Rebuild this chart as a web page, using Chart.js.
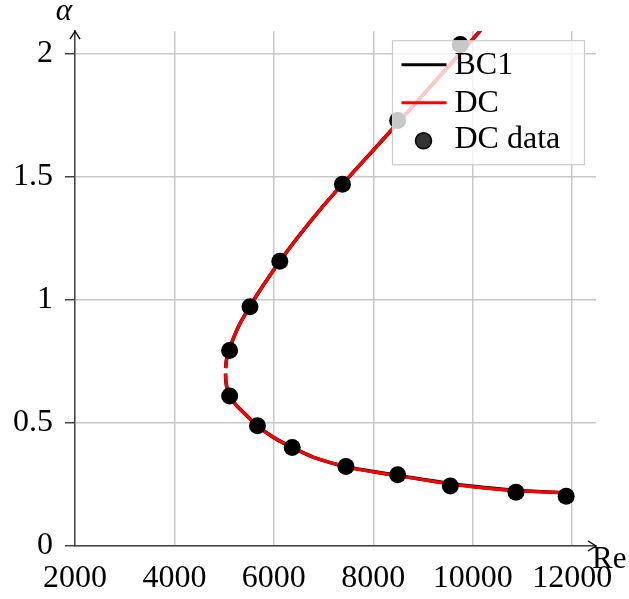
<!DOCTYPE html>
<html>
<head>
<meta charset="utf-8">
<script src="https://cdn.jsdelivr.net/npm/chart.js@4.4.1/dist/chart.umd.min.js"></script>
<style>
  html, body { margin: 0; padding: 0; background: #fff; }
  #wrap { width: 629px; height: 599px; }
</style>
</head>
<body>
<div id="wrap"><canvas id="neutralChart"></canvas></div>
<script>
// tick values and labels
const xTicks = [2000, 4000, 6000, 8000, 10000, 12000];
const xTickLabels = ['2000', '4000', '6000', '8000', '10000', '12000'];
const yTicks = [0, 0.5, 1, 1.5, 2];
const yTickLabels = ['0', '0.5', '1', '1.5', '2'];

// BC1 neutral curve (null = break near the nose)
const bc1Re = [12000, 11000, 10500, 10000, 9500, 9000, 8500, 8000, 7450, 6800, 6370, 6000, 5666, 5400, 5250, 5115, 5060, 5035, 5028, null,
  5030, 5050, 5110, 5200, 5310, 5510, 5760, 6121, 6480, 6940, 7380, 8000, 8600, 9300, 10200];
const bc1Alpha = [0.215, 0.224, 0.232, 0.242, 0.255, 0.270, 0.286, 0.302, 0.322, 0.360, 0.400, 0.440, 0.488, 0.540, 0.570, 0.609, 0.640, 0.670, 0.700, null,
  0.722, 0.760, 0.800, 0.850, 0.900, 0.970, 1.050, 1.156, 1.253, 1.368, 1.469, 1.607, 1.741, 1.899, 2.103];

// DC neutral curve
const dcRe = [12000, 11000, 10500, 10000, 9500, 9000, 8500, 8000, 7450, 6800, 6370, 6000, 5666, 5400, 5250, 5115, 5060, 5035, 5028, null,
  5030, 5050, 5110, 5200, 5310, 5510, 5760, 6121, 6480, 6940, 7380, 8000, 8600, 9300, 10200];
const dcAlpha = [0.215, 0.223, 0.230, 0.240, 0.253, 0.269, 0.285, 0.301, 0.322, 0.360, 0.400, 0.440, 0.488, 0.540, 0.570, 0.609, 0.640, 0.670, 0.700, null,
  0.722, 0.760, 0.800, 0.850, 0.900, 0.970, 1.050, 1.156, 1.253, 1.368, 1.469, 1.607, 1.741, 1.899, 2.103];

// DC data points
const dataRe = [5110, 5110, 5520, 6120, 7380, 8490, 9750, 5670, 6370, 7450, 8490, 9550, 10870, 11880];
const dataAlpha = [0.794, 0.609, 0.971, 1.156, 1.469, 1.727, 2.036, 0.488, 0.400, 0.323, 0.289, 0.244, 0.218, 0.202];

const FONT = 'Liberation Serif';

function toPoints(xs, ys) {
  return xs.map((x, i) => (x === null ? { x: NaN, y: null } : { x, y: ys[i] }));
}

// arrows, axis names and the legend box on top of the data
const decorPlugin = {
  id: 'decor',
  afterDraw(chart) {
    const { ctx, chartArea, scales } = chart;
    const x0 = scales.x.getPixelForValue(2000);
    const y0 = scales.y.getPixelForValue(0);

    ctx.save();
    ctx.strokeStyle = '#000';
    ctx.lineWidth = 1.4;
    ctx.beginPath();
    ctx.moveTo(chartArea.right - 8, y0 - 5);
    ctx.lineTo(chartArea.right, y0);
    ctx.lineTo(chartArea.right - 8, y0 + 5);
    ctx.moveTo(x0 - 5, chartArea.top + 8);
    ctx.lineTo(x0, chartArea.top);
    ctx.lineTo(x0 + 5, chartArea.top + 8);
    ctx.stroke();

    ctx.fillStyle = '#000';
    ctx.font = 'italic 31px ' + FONT;
    ctx.textAlign = 'center';
    ctx.textBaseline = 'middle';
    ctx.fillText('α', 64, 12);
    ctx.font = '31px ' + FONT;
    ctx.textAlign = 'left';
    ctx.textBaseline = 'alphabetic';
    ctx.fillText('Re', chartArea.right - 4, y0 + 22);

    // legend
    const bx = chartArea.right - 203.5;
    const by = chartArea.top + 9.5;
    ctx.fillStyle = 'rgba(255,255,255,0.78)';
    ctx.fillRect(bx, by, 192, 124);
    ctx.strokeStyle = '#cccccc';
    ctx.lineWidth = 1.2;
    ctx.strokeRect(bx, by, 192, 124);

    const rows = [24, 62, 100];
    ctx.lineWidth = 3;
    ctx.strokeStyle = '#000';
    ctx.beginPath();
    ctx.moveTo(bx + 9, by + rows[0]);
    ctx.lineTo(bx + 54, by + rows[0]);
    ctx.stroke();
    ctx.strokeStyle = '#ff0000';
    ctx.beginPath();
    ctx.moveTo(bx + 9, by + rows[1]);
    ctx.lineTo(bx + 54, by + rows[1]);
    ctx.stroke();
    ctx.fillStyle = '#333';
    ctx.strokeStyle = '#000';
    ctx.lineWidth = 1.5;
    ctx.beginPath();
    ctx.arc(bx + 31, by + rows[2], 8, 0, Math.PI * 2);
    ctx.fill();
    ctx.stroke();

    ctx.fillStyle = '#000';
    ctx.font = '32px ' + FONT;
    ctx.textBaseline = 'middle';
    ctx.fillText('BC1', bx + 62, by + rows[0] + 1);
    ctx.fillText('DC', bx + 62, by + rows[1] + 1);
    ctx.fillText('DC data', bx + 62, by + rows[2] - 1);
    ctx.restore();
  },
};

new Chart(document.getElementById('neutralChart'), {
  type: 'scatter',
  data: {
    datasets: [
      {
        label: 'DC data',
        data: toPoints(dataRe, dataAlpha),
        backgroundColor: '#000',
        borderWidth: 0,
        pointRadius: 8.5,
        pointHoverRadius: 8.5,
        clip: false,
        order: 0,
      },
      {
        label: 'DC',
        data: toPoints(dcRe, dcAlpha),
        showLine: true,
        borderColor: '#ff0000',
        borderWidth: 3.2,
        pointRadius: 0,
        tension: 0.25,
        spanGaps: false,
        order: 1,
      },
      {
        label: 'BC1',
        data: toPoints(bc1Re, bc1Alpha),
        showLine: true,
        borderColor: '#000',
        borderWidth: 3.6,
        pointRadius: 0,
        tension: 0.25,
        spanGaps: false,
        order: 2,
      },
    ],
  },
  options: {
    responsive: true,
    maintainAspectRatio: false,
    devicePixelRatio: 1,
    animation: false,
    layout: { padding: { top: 27, right: 33, left: 0, bottom: 0 } },
    plugins: {
      legend: { display: false },
      tooltip: { enabled: false },
    },
    scales: {
      x: {
        type: 'linear',
        min: 2000,
        max: 12480,
        afterBuildTicks: (s) => { s.ticks = xTicks.map((v) => ({ value: v })); },
        afterFit: (s) => { s.height = 53; },
        ticks: {
          font: { family: FONT, size: 32 },
          color: '#000',
          padding: 13,
          maxRotation: 0,
          autoSkip: false,
          callback: (v) => xTickLabels[xTicks.indexOf(v)],
        },
        grid: { color: '#c8c8c8', lineWidth: 1.5, drawTicks: false },
        border: { color: '#444', width: 1.5 },
      },
      y: {
        type: 'linear',
        min: 0,
        max: 2.09,
        afterBuildTicks: (s) => { s.ticks = yTicks.map((v) => ({ value: v })); },
        afterFit: (s) => { s.width = 75; },
        ticks: {
          font: { family: FONT, size: 32 },
          color: '#000',
          padding: 12,
          autoSkip: false,
          callback: (v) => yTickLabels[yTicks.indexOf(v)],
        },
        grid: { color: '#c8c8c8', lineWidth: 1.5, tickLength: 10, tickColor: '#444' },
        border: { color: '#444', width: 1.5 },
      },
    },
  },
  plugins: [decorPlugin],
});
</script>
</body>
</html>
